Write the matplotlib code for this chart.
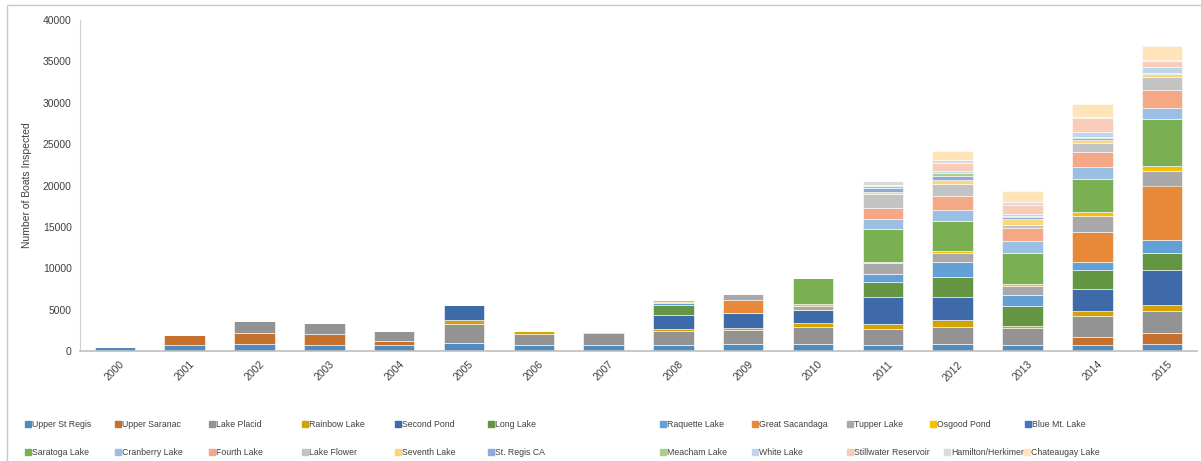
import matplotlib.pyplot as plt
from matplotlib.patches import Rectangle
import numpy as np

plt.rcParams['font.family'] = ['Liberation Sans', 'DejaVu Sans']

years = [str(y) for y in range(2000, 2016)]

lakes = ["Upper St Regis", "Upper Saranac", "Lake Placid", "Rainbow Lake", "Second Pond",
         "Long Lake", "Raquette Lake", "Great Sacandaga", "Tupper Lake", "Osgood Pond",
         "Blue Mt. Lake", "Saratoga Lake", "Cranberry Lake", "Fourth Lake", "Lake Flower",
         "Seventh Lake", "St. Regis CA", "Meacham Lake", "White Lake", "Stillwater Reservoir",
         "Hamilton/Herkimer", "Chateaugay Lake"]

colors = ["#4F8BBF", "#C6702E", "#939393", "#D4A300", "#3F6AAA", "#649542",
          "#62A0D6", "#E8893A", "#A9A9A9", "#F8BE00", "#4472C4", "#7AAF52",
          "#9BBFE4", "#F4A886", "#C3C3C3", "#FED679", "#8EA9DC", "#A9CF8D",
          "#BDD6EE", "#F8CCB8", "#DADADA", "#FFE4BA"]

# boats inspected per lake, 2000..2015
upper_st_regis = [440, 690, 890, 690, 690, 1010, 770, 770, 770, 890, 890, 770, 850, 770, 770, 890]
upper_saranac = [0, 1290, 1330, 1410, 480, 0, 0, 0, 0, 0, 0, 0, 0, 0, 890, 1290]
lake_placid = [0, 0, 1370, 1250, 1290, 2300, 1290, 1410, 1610, 1690, 2060, 1930, 2100, 2010, 2540, 2660]
rainbow_lake = [0, 0, 0, 0, 0, 400, 400, 160, 240, 240, 400, 520, 770, 280, 600, 770]
second_pond = [0, 0, 0, 0, 0, 1810, 0, 0, 1690, 1770, 1610, 3350, 2860, 0, 2660, 4150]
long_lake = [0, 0, 0, 0, 0, 0, 0, 0, 1250, 0, 0, 1770, 2380, 2420, 2300, 2100]
raquette_lake = [0, 0, 0, 0, 0, 0, 0, 0, 240, 0, 0, 970, 1810, 1330, 1010, 1610]
great_sacandaga = [0, 0, 0, 0, 0, 0, 0, 0, 0, 1610, 0, 0, 0, 0, 3630, 6530]
tupper_lake = [0, 0, 0, 0, 0, 0, 0, 0, 120, 730, 480, 1290, 1130, 1050, 1930, 1730]
osgood_pond = [0, 0, 0, 0, 0, 0, 0, 0, 200, 0, 200, 200, 200, 280, 520, 600]
blue_mt_lake = [0] * 16
saratoga_lake = [0, 0, 0, 0, 0, 0, 0, 0, 0, 0, 3180, 3990, 3590, 3710, 3990, 5720]
cranberry_lake = [0, 0, 0, 0, 0, 0, 0, 0, 0, 0, 0, 1170, 1290, 1450, 1410, 1330]
fourth_lake = [0, 0, 0, 0, 0, 0, 0, 0, 0, 0, 0, 1370, 1770, 1570, 1770, 2220]
lake_flower = [0, 0, 0, 0, 0, 0, 0, 0, 0, 0, 0, 1650, 1450, 400, 1130, 1530]
seventh_lake = [0, 0, 0, 0, 0, 0, 0, 0, 0, 0, 0, 280, 520, 650, 360, 320]
st_regis_ca = [0, 0, 0, 0, 0, 0, 0, 0, 0, 0, 0, 440, 440, 240, 240, 80]
meacham_lake = [0, 0, 0, 0, 0, 0, 0, 0, 0, 0, 0, 240, 320, 200, 160, 80]
white_lake = [0, 0, 0, 0, 0, 0, 0, 0, 0, 0, 0, 100, 240, 240, 520, 650]
stillwater = [0, 0, 0, 0, 0, 0, 0, 0, 0, 0, 0, 0, 1010, 1090, 1690, 770]
hamilton_herkimer = [0, 0, 0, 0, 0, 0, 0, 0, 0, 0, 0, 460, 360, 320, 100, 100]
chateaugay_lake = [0, 0, 0, 0, 0, 0, 0, 0, 0, 0, 0, 0, 1090, 1370, 1630, 1710]

series = [upper_st_regis, upper_saranac, lake_placid, rainbow_lake, second_pond,
          long_lake, raquette_lake, great_sacandaga, tupper_lake, osgood_pond,
          blue_mt_lake, saratoga_lake, cranberry_lake, fourth_lake, lake_flower,
          seventh_lake, st_regis_ca, meacham_lake, white_lake, stillwater,
          hamilton_herkimer, chateaugay_lake]

W, H = 1201, 461
fig = plt.figure(figsize=(W / 100, H / 100), dpi=100)
ax = fig.add_axes([80 / W, 1 - 351 / H, 1117 / W, 331 / H])

x = np.arange(len(years))
bottom = np.zeros(len(years))
for name, vals, c in zip(lakes, series, colors):
    vals = np.array(vals, dtype=float)
    ax.bar(x, vals, 0.58, bottom=bottom, color=c, edgecolor='white', linewidth=0.4, label=name)
    bottom += vals

ax.set_xlim(-0.5, len(years) - 0.5)
ax.set_ylim(0, 40000)
ax.set_yticks(range(0, 40001, 5000))
ax.set_xticks(x)
ax.set_xticklabels(years, rotation=45, ha='center', va='top')
ax.tick_params(length=0, labelsize=7.5, colors='#404040', pad=6)
ax.tick_params(axis='x', pad=6)
for s in ['top', 'right']:
    ax.spines[s].set_visible(False)
ax.spines['left'].set_color('#D0D0D0')
ax.spines['bottom'].set_color('#BFBFBF')
ax.spines['bottom'].set_linewidth(1.2)
ax.set_ylabel('Number of Boats Inspected', fontsize=7.5, color='#404040', labelpad=8)

# chart border
fig.patches.append(Rectangle((7 / W, -0.1), 1.2, 1.1 - 5 / H, transform=fig.transFigure,
                             fill=False, edgecolor='#C8C8C8', linewidth=1))

# legend, two rows
col_x = [28, 118, 212, 305, 398, 491, 663, 755, 850, 933, 1028]
row2_x = [28, 118, 212, 305, 398, 491, 663, 755, 850, 947, 1027]
for i, (name, c) in enumerate(zip(lakes, colors)):
    row = i // 11
    px = (col_x if row == 0 else row2_x)[i % 11]
    py = 424 if row == 0 else 452
    fig.patches.append(Rectangle(((px - 3) / W, 1 - (py + 3) / H), 6 / W, 6 / H,
                                 transform=fig.transFigure, color=c))
    fig.text((px + 4) / W, 1 - py / H, name, fontsize=6.3, color='#404040', va='center')

fig.savefig('out.png', dpi=100)
